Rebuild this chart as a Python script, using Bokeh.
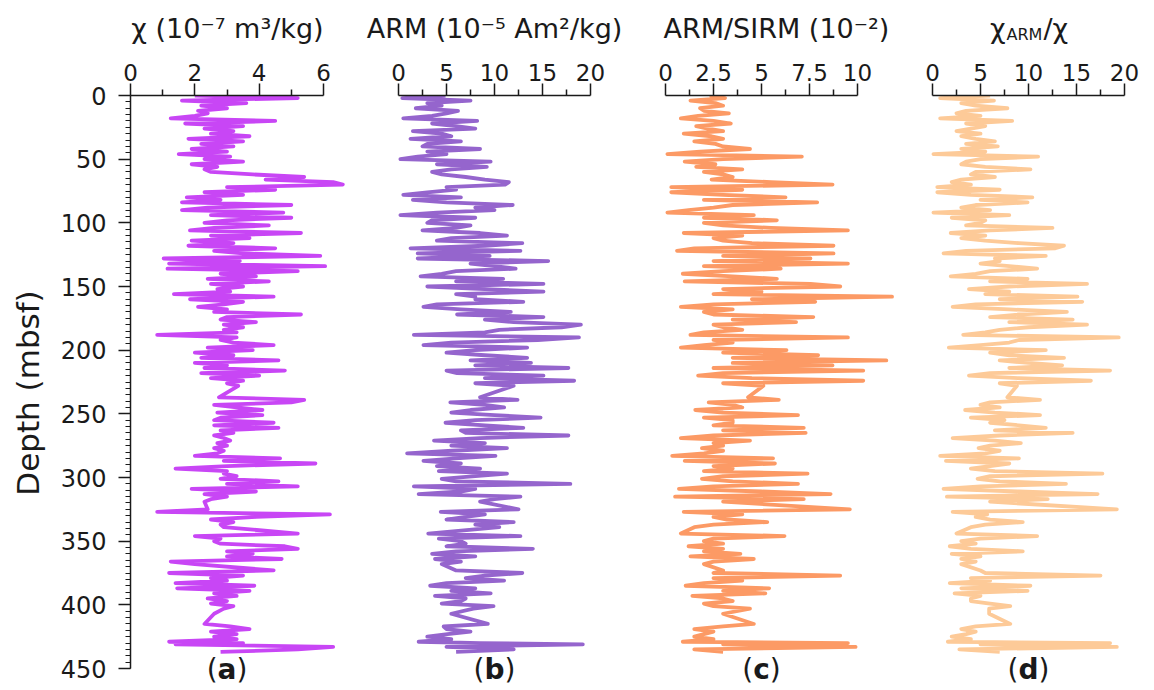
from bokeh.plotting import figure
from bokeh.layouts import row, column
from bokeh.models import Range1d, FixedTicker, SingleIntervalTicker, NumeralTickFormatter
from bokeh.core.properties import value
from bokeh.embed import file_html
from bokeh.resources import INLINE

# Sample depths (mbsf), shared by all four profiles
depth = [
    0, 2, 4, 6, 8, 10, 12, 14, 16, 18,
    20, 22, 24, 26, 28, 30, 32, 34, 36, 38,
    40, 42, 44, 46, 48, 50, 52, 54, 56, 58,
    60, 62, 64, 66, 68, 70, 72, 74, 76, 78,
    80, 82, 84, 86, 88, 90, 92, 94, 96, 98,
    100, 102, 104, 106, 108, 110, 112, 114, 116, 118,
    120, 122, 124, 126, 128, 130, 132, 134, 136, 138,
    140, 142, 144, 146, 148, 150, 152, 154, 156, 158,
    160, 162, 164, 166, 168, 170, 172, 174, 176, 178,
    180, 182, 184, 186, 188, 190, 192, 194, 196, 198,
    200, 202, 204, 206, 208, 210, 212, 214, 216, 218,
    220, 222, 224, 226, 228, 237, 239, 241, 243, 245,
    247, 249, 251, 253, 255, 257, 259, 261, 263, 265,
    267, 269, 271, 273, 275, 277, 279, 281, 283, 285,
    287, 289, 291, 293, 295, 297, 299, 301, 303, 305,
    307, 309, 311, 313, 315, 317, 319, 325, 327, 329,
    331, 333, 335, 337, 339, 344, 346, 348, 350, 352,
    354, 356, 358, 360, 362, 364, 366, 368, 373, 375,
    377, 379, 381, 383, 385, 387, 389, 391, 393, 395,
    397, 399, 401, 403, 407, 415, 417, 419, 421, 423,
    425, 427, 429, 430, 431, 433, 435, 437,
]

# Magnetic susceptibility chi (1e-7 m3/kg)
chi = [
    2.0, 5.2, 1.6, 3.6, 2.2, 3.0, 2.1, 2.4, 2.0, 1.25,
    4.5, 1.7, 3.5, 2.3, 3.2, 2.5, 3.7, 1.8, 3.5, 2.2,
    3.2, 1.9, 3.0, 1.5, 3.1, 2.3, 3.5, 1.9, 2.7, 2.3,
    2.5, 3.8, 5.4, 4.2, 6.3, 6.6, 3.0, 4.5, 2.3, 3.5,
    1.75, 2.8, 1.6, 5.0, 2.4, 1.6, 4.75, 2.5, 5.0, 3.0,
    2.3, 4.3, 2.6, 1.85, 5.3, 2.5, 3.7, 1.9, 3.2, 1.8,
    4.5, 2.6, 3.5, 5.9, 1.03, 3.4, 1.2, 6.05, 1.15, 5.2,
    2.8, 3.9, 2.4, 4.3, 2.5, 3.5, 2.7, 3.1, 1.35, 4.45,
    1.85, 3.5, 2.9, 2.1, 3.0, 2.6, 5.3, 3.0, 2.8, 3.9,
    2.9, 3.5, 2.9, 3.3, 0.83, 3.3, 2.8, 3.2, 4.45, 2.4,
    3.8, 2.0, 3.2, 2.2, 4.6, 2.0, 3.0, 2.3, 4.8, 2.2,
    4.0, 2.5, 3.5, 3.0, 3.35, 2.75, 5.4, 5.0, 2.6, 3.3,
    4.1, 2.7, 4.1, 2.8, 2.6, 4.45, 2.6, 4.6, 2.8, 3.2,
    2.6, 2.9, 3.1, 2.7, 3.0, 2.6, 2.9, 2.7, 2.0, 4.65,
    2.9, 5.75, 3.0, 1.4, 3.0, 2.9, 3.3, 2.8, 4.6, 3.0,
    5.2, 1.9, 3.9, 2.3, 3.0, 2.5, 2.3, 2.4, 0.83, 6.2,
    3.9, 2.5, 3.2, 2.8, 2.9, 5.2, 2.0, 2.8, 2.6, 2.8,
    4.8, 5.2, 3.0, 3.8, 3.0, 4.7, 1.25, 2.0, 4.45, 1.2,
    3.5, 2.5, 3.0, 1.4, 3.85, 1.45, 3.7, 2.6, 3.3, 2.4,
    3.0, 2.5, 3.2, 2.9, 2.6, 2.3, 3.1, 3.7, 2.5, 3.3,
    2.6, 3.3, 1.2, 3.5, 1.4, 6.3, 5.2, 2.8,
]

# Anhysteretic remanent magnetisation (1e-5 Am2/kg)
arm = [
    4.9, 0.4, 7.5, 3.0, 4.5, 1.8, 6.2, 5.0, 3.5, 0.5,
    8.2, 3.5, 6.0, 8.0, 1.5, 4.5, 5.5, 1.25, 6.5, 3.0,
    2.5, 8.5, 3.0, 5.0, 2.0, 0.2, 9.6, 4.0, 9.2, 5.5,
    3.5, 4.5, 7.0, 9.0, 11.5, 11.1, 5.0, 6.0, 3.0, 0.5,
    6.5, 1.5, 5.0, 11.9, 8.0, 10.0, 4.0, 0.2, 8.0, 3.5,
    3.0, 7.5, 6.0, 2.5, 8.5, 11.3, 5.5, 4.0, 12.9, 9.0,
    1.25, 12.7, 2.0, 9.5, 2.0, 15.6, 7.5, 10.0, 12.2, 6.0,
    4.5, 2.3, 10.9, 6.0, 15.1, 3.0, 9.0, 15.1, 6.0, 8.0,
    8.0, 13.0, 4.0, 2.6, 6.5, 11.7, 6.1, 15.1, 9.0, 12.0,
    19.0, 17.0, 10.5, 9.0, 1.6, 18.8, 14.5, 5.5, 2.6, 13.4,
    8.0, 5.0, 9.0, 13.4, 7.5, 13.8, 8.0, 17.7, 5.0, 6.1,
    15.1, 9.0, 18.3, 8.0, 12.0, 8.5, 12.4, 5.4, 9.0, 11.0,
    7.5, 5.5, 10.0, 14.8, 8.0, 4.9, 9.0, 13.0, 6.5, 7.0,
    17.7, 8.5, 3.7, 9.0, 5.5, 11.3, 5.6, 0.9, 10.1, 6.0,
    2.6, 6.5, 4.0, 8.5, 4.2, 11.3, 8.0, 4.5, 6.0, 17.9,
    1.6, 8.0, 6.5, 2.1, 12.7, 10.0, 8.5, 12.5, 4.4, 9.0,
    7.0, 5.0, 12.0, 8.0, 10.5, 3.1, 12.7, 4.2, 6.5, 7.0,
    5.0, 14.0, 6.0, 3.5, 8.0, 3.8, 6.5, 4.5, 6.0, 12.9,
    9.0, 7.0, 11.0, 5.0, 3.3, 8.0, 5.5, 9.6, 3.8, 7.0,
    6.5, 4.5, 9.9, 7.8, 5.5, 9.3, 4.7, 5.0, 7.5, 5.1,
    3.0, 5.5, 2.1, 8.5, 19.2, 5.0, 12.0, 6.0,
]

# ARM/SIRM ratio (1e-2)
arm_sirm = [
    2.3, 3.1, 1.3, 2.6, 3.0, 1.8, 2.0, 3.3, 1.7, 0.8,
    2.5, 3.4, 1.6, 2.2, 3.0, 0.95, 2.4, 3.0, 1.5, 2.6,
    3.0, 4.4, 1.8, 0.1, 7.1, 3.0, 1.0, 2.6, 1.6, 4.0,
    2.0, 3.0, 3.5, 2.4, 5.5, 8.7, 0.3, 4.0, 0.3, 3.0,
    6.25, 2.0, 7.9, 3.5, 2.5, 1.2, 0.1, 4.6, 2.0, 5.8,
    2.0, 3.0, 5.5, 9.5, 0.95, 4.0, 2.5, 3.0, 4.5, 8.75,
    1.5, 0.6, 8.75, 3.0, 7.55, 2.5, 9.5, 2.0, 6.0, 3.0,
    0.9, 3.5, 5.8, 1.0, 7.55, 9.1, 3.0, 5.0, 2.5, 11.8,
    4.5, 7.8, 2.5, 0.8, 3.5, 2.0, 2.5, 7.7, 3.5, 6.8,
    2.5, 3.0, 4.0, 2.0, 1.3, 9.5, 2.5, 3.5, 2.0, 0.8,
    6.3, 3.0, 7.95, 3.5, 11.5, 3.5, 8.7, 2.5, 10.3, 3.0,
    1.7, 4.5, 10.3, 3.0, 5.1, 4.3, 5.9, 2.25, 3.5, 4.0,
    1.55, 3.0, 6.9, 2.0, 3.5, 3.5, 2.5, 7.2, 3.0, 7.3,
    2.5, 0.8, 4.4, 2.5, 3.0, 1.9, 3.0, 2.0, 0.35, 5.6,
    1.0, 5.7, 2.5, 3.5, 2.0, 7.4, 3.0, 1.9, 3.5, 6.9,
    2.5, 0.7, 5.0, 8.6, 0.5, 7.2, 3.0, 9.6, 0.95, 4.0,
    2.5, 3.2, 5.3, 2.5, 1.5, 0.8, 6.2, 2.5, 2.0, 3.0,
    1.2, 3.0, 2.0, 3.9, 1.3, 4.6, 2.5, 2.0, 3.0, 2.5,
    9.1, 2.5, 4.0, 2.0, 1.05, 5.4, 3.0, 5.2, 1.4, 3.0,
    3.5, 2.0, 2.5, 4.4, 3.0, 4.6, 3.0, 1.5, 2.5, 2.0,
    1.5, 2.5, 0.9, 9.5, 3.0, 9.9, 1.5, 3.0,
]

# chi_ARM / chi ratio
chi_arm_ratio = [
    6.0, 0.8, 6.4, 3.0, 4.5, 7.8, 3.5, 2.5, 5.0, 0.8,
    8.3, 3.5, 5.5, 4.0, 2.5, 5.0, 3.0, 4.5, 6.5, 3.5,
    6.8, 3.0, 5.5, 0.1, 11.0, 5.0, 3.5, 3.0, 5.5, 10.2,
    4.5, 4.0, 6.5, 3.0, 2.0, 4.0, 0.5, 7.0, 0.5, 4.0,
    10.4, 5.0, 9.9, 4.5, 3.0, 6.0, 0.1, 8.0, 2.0, 5.5,
    5.0, 3.5, 12.5, 6.0, 1.9, 5.5, 3.0, 5.5, 9.0, 13.7,
    12.8, 3.5, 1.15, 11.8, 6.5, 7.0, 5.0, 8.0, 10.9, 6.0,
    4.5, 1.9, 9.9, 6.0, 16.1, 8.0, 3.8, 8.0, 5.5, 15.1,
    7.0, 15.6, 4.5, 2.1, 8.0, 14.0, 9.0, 6.0, 14.6, 8.0,
    16.1, 10.0, 7.0, 5.5, 3.2, 19.4, 9.0, 8.0, 5.0, 1.7,
    11.8, 6.0, 8.0, 13.7, 7.0, 10.0, 13.5, 8.0, 18.5, 6.0,
    3.8, 9.0, 16.5, 7.0, 8.8, 7.8, 11.2, 6.0, 5.0, 7.0,
    3.4, 6.5, 11.2, 4.0, 7.5, 6.0, 9.0, 11.8, 6.5, 14.6,
    7.0, 2.1, 6.5, 9.2, 6.0, 4.8, 7.0, 5.5, 0.8, 9.0,
    1.4, 8.0, 6.0, 4.0, 6.5, 17.7, 6.0, 4.7, 7.0, 13.9,
    5.0, 1.15, 9.0, 17.2, 1.5, 12.0, 6.0, 19.2, 2.1, 5.7,
    4.5, 6.0, 9.4, 5.5, 4.0, 2.5, 10.9, 5.0, 3.0, 4.5,
    1.8, 4.0, 9.4, 2.0, 5.0, 3.0, 4.5, 3.0, 5.0, 5.5,
    17.5, 4.0, 6.0, 1.8, 10.2, 3.0, 9.9, 2.3, 5.0, 4.0,
    4.0, 6.0, 8.1, 5.9, 5.9, 8.1, 4.5, 3.0, 4.5, 3.5,
    2.0, 4.0, 1.6, 18.5, 5.0, 19.2, 2.8, 7.0,
]

for series in (chi, arm, arm_sirm, chi_arm_ratio):
    assert len(series) == len(depth)

FONT = "DejaVu Sans"
INK = "#1a1a1a"
TITLE_H = 48          # strip that carries the panel headings
AXIS_GAP = 47         # room for the top axis between heading strip and plot frame
TOP = TITLE_H + AXIS_GAP
FRAME_H = 690 - TOP
PX_PER_M = 573 / 450  # depth scale: 0-450 m spans 573 px
DEPTH_MAX = 450
DROP = 0.39           # text glyphs land about this many font-sizes below the requested baseline


def heading(border_left, lead, frame_w, runs):
    """Heading strip; x is measured in pixels from the panel's zero line."""
    h = figure(frame_width=lead + frame_w, frame_height=TITLE_H,
               x_range=Range1d(-lead, frame_w), y_range=Range1d(TITLE_H, 0),
               x_axis_location=None, y_axis_location=None,
               min_border=0, min_border_left=border_left, min_border_right=0,
               min_border_top=0, min_border_bottom=0,
               toolbar_location=None, output_backend="svg")
    h.outline_line_color = None
    h.border_fill_color = "white"
    for g in h.grid:
        g.grid_line_color = None
    for text, x, base, size, align in runs:
        h.text(x=[x], y=[base - DROP * size], text=[text], text_font=value(FONT),
               text_font_size=value(f"{size}px"), text_color=INK,
               text_align=align, text_baseline="alphabetic")
    return h


def panel_letter(p, letter, center, ppu):
    size = 28
    half = {"a": 0.675, "b": 0.716, "c": 0.593, "d": 0.716}[letter] * size / ppu / 2
    y = (680 - DROP * size - TOP) / PX_PER_M
    common = dict(text_font=value(FONT), text_font_size=value(f"{size}px"), text_color=INK,
                  text_baseline="alphabetic")
    p.text(x=[center - half], y=[y], text=["("], text_align="right", **common)
    p.text(x=[center + half], y=[y], text=[")"], text_align="left", **common)
    p.text(x=[center], y=[y], text=[letter], text_align="center", text_font_style="bold", **common)


def make_panel(values, color, axis_max, ppu, frame_w, border_left, lead, ticks, minor, depth_axis):
    p = figure(frame_width=lead + frame_w, frame_height=FRAME_H,
               x_range=Range1d(-lead / ppu, frame_w / ppu), y_range=Range1d(FRAME_H / PX_PER_M, 0),
               x_axis_location="above", y_axis_location="left" if depth_axis else None,
               min_border_left=border_left, min_border_right=0, min_border_top=AXIS_GAP,
               min_border_bottom=0, toolbar_location=None, output_backend="svg")
    p.outline_line_color = None
    p.background_fill_color = "white"
    p.border_fill_color = "white"
    for g in p.grid:
        g.grid_line_color = None

    p.line(values, depth, line_color=color, line_width=3.8, line_join="round")

    ax = p.xaxis[0]
    ax.ticker = FixedTicker(ticks=ticks, minor_ticks=minor)
    ax.formatter = NumeralTickFormatter(format="0.[0]")
    ax.bounds = (0, axis_max)
    ax.axis_line_color = INK
    ax.axis_line_width = 1.5
    ax.major_tick_line_color = INK
    ax.minor_tick_line_color = INK
    ax.major_tick_line_width = 1.5
    ax.minor_tick_line_width = 1.5
    ax.major_tick_out = 12
    ax.major_tick_in = 0
    ax.minor_tick_out = 6
    ax.minor_tick_in = 0
    ax.major_label_standoff = 3
    ax.major_label_text_font = FONT
    ax.major_label_text_font_size = "23px"
    ax.major_label_text_color = INK

    if depth_axis:
        ay = p.yaxis[0]
        ay.ticker = SingleIntervalTicker(interval=50, num_minor_ticks=10)
        ay.bounds = (0, DEPTH_MAX)
        ay.axis_line_color = INK
        ay.axis_line_width = 1.5
        ay.major_tick_line_color = INK
        ay.minor_tick_line_color = INK
        ay.major_tick_line_width = 1.5
        ay.minor_tick_line_width = 1.2
        ay.major_tick_out = 12
        ay.major_tick_in = 0
        ay.minor_tick_out = 5
        ay.minor_tick_in = 0
        ay.major_label_standoff = 12
        ay.major_label_text_font = FONT
        ay.major_label_text_font_size = "24px"
        ay.major_label_text_color = INK
        ay.axis_label = "Depth (mbsf)"
        ay.axis_label_text_font = FONT
        ay.axis_label_text_font_size = "31px"
        ay.axis_label_text_font_style = "normal"
        ay.axis_label_text_color = INK
        ay.axis_label_standoff = 12
    return p


BASE = 39   # heading baseline, px from the top of the page
panels = []

# panel (a): magnetic susceptibility
ppu = 193 / 6
pa = make_panel(chi, "#C846F5", 6, ppu, 230, 130, 0, [0, 2, 4, 6], [1, 3, 5], True)
ha = heading(130, 0, 230, [("\u03c7 (10\u207b\u2077 m\u00b3/kg)", 97, BASE, 27, "center")])
panel_letter(pa, "a", 3, ppu)
panels.append(column(ha, pa, spacing=0))

# panel (b): ARM
ppu = 192 / 20
pb = make_panel(arm, "#9565CD", 20, ppu, 229, 0, 38,
                [0, 5, 10, 15, 20], [2.5, 7.5, 12.5, 17.5], False)
hb = heading(0, 38, 229, [("ARM (10\u207b\u2075 Am\u00b2/kg)", 96, BASE, 27, "center")])
panel_letter(pb, "b", 10, ppu)
panels.append(column(hb, pb, spacing=0))

# panel (c): ARM/SIRM
ppu = 192 / 10
pc = make_panel(arm_sirm, "#FC9A65", 10, ppu, 229, 0, 38,
                [0, 2.5, 5, 7.5, 10], [1.25, 3.75, 6.25, 8.75], False)
hc = heading(0, 38, 229, [("ARM/SIRM (10\u207b\u00b2)", -2, BASE, 27, "left")])
panel_letter(pc, "c", 5, ppu)
panels.append(column(hc, pc, spacing=0))

# panel (d): chi_ARM / chi, with ARM set as a subscript
ppu = 192 / 20
pd = make_panel(chi_arm_ratio, "#FDCA98", 20, ppu, 222, 0, 38,
                [0, 5, 10, 15, 20], [2.5, 7.5, 12.5, 17.5], False)
hd = heading(0, 38, 222, [("\u03c7", 73, BASE, 27, "right"),
                          ("ARM", 74, BASE + 1, 16, "left"),
                          ("/\u03c7", 111, BASE, 27, "left")])
panel_letter(pd, "d", 10, ppu)
panels.append(column(hd, pd, spacing=0))

layout = row(*panels, spacing=0)
open("out.html", "w").write(file_html(layout, INLINE))
